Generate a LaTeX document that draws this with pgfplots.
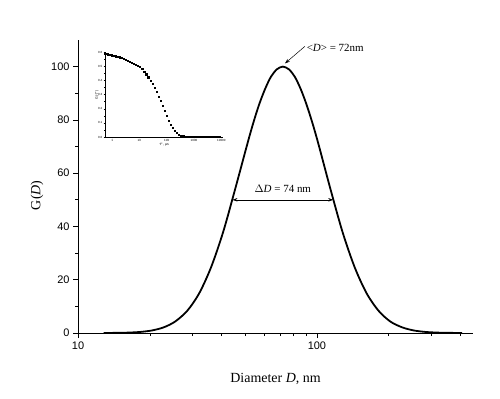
\documentclass[border=0pt]{standalone}
\usepackage{pgfplots}
\pgfplotsset{compat=1.18}
\usepackage{fontspec}
\setmainfont{Liberation Serif}
\setsansfont{Liberation Sans}
\usetikzlibrary{arrows.meta}
\begin{document}
\begin{tikzpicture}
\path[use as bounding box] (-78bp,-66bp) rectangle (422bp,333bp);
\begin{axis}[
  at={(0,0)}, anchor=south west,
  scale only axis, width=395bp, height=293bp,
  xmode=log, xmin=10, xmax=450, ymin=0, ymax=110,
  axis x line*=bottom, axis y line*=left,
  axis line style={line width=0.9pt},
  xtick={10,100}, xticklabels={\sffamily 10,\sffamily 100},
  minor xtick={20,30,40,50,60,70,80,90,200,300,400},
  ytick={0,20,40,60,80,100},
  yticklabels={\sffamily 0,\sffamily 20,\sffamily 40,\sffamily 60,\sffamily 80,\sffamily 100},
  minor ytick={10,30,50,70,90},
  tick align=outside, tick pos=left,
  major tick length=5bp, minor tick length=3bp,
  tick style={line width=0.8pt, black},
  every tick label/.append style={font=\sffamily\fontsize{11}{11}\selectfont},
  xlabel={Diameter \textit{D}, nm},
  ylabel={G(\textit{D})},
  every axis label/.append style={font=\rmfamily\fontsize{14}{14}\selectfont},
  xlabel style={yshift=-17bp},
  ylabel style={at={(ticklabel cs:0.47)}, yshift=1bp},
]
\addplot[black, line width=1.8pt, smooth] coordinates {
(12.8,0.02)(14.4,0.05)(16.1,0.14)(18.1,0.38)(20.3,0.92)(22.8,2.1)(25.5,4.3)
(28.7,8.4)(32.2,15.0)(36.1,24.8)(40.5,37.9)(45.4,53.8)(51.0,70.6)(54.0,78.5)(57.2,85.6)
(60.6,91.5)(64.2,96.2)(68.0,99.0)(72,100)(76.3,99.0)(80.8,96.2)(85.6,91.5)(90.6,85.6)(96.0,78.5)(101.7,70.6)
(114.1,53.8)(128.0,37.9)(143.7,24.8)(161.2,15.0)(180.9,8.4)(202.9,4.3)
(227.7,2.1)(255.5,0.92)(286.6,0.38)(321.6,0.14)(360.9,0.05)(404.9,0.02)
};
\draw[-{Stealth[length=5bp,width=3.5bp]}, line width=0.5pt] (axis cs:89,107.6) -- (axis cs:73.5,101.2);
\node[anchor=west, font=\fontsize{11}{11}\selectfont, inner sep=0pt] at (axis cs:90.5,107.2) {<\textit{D}> = 72nm};
\draw[{Stealth[length=5bp,width=3.5bp]}-{Stealth[length=5bp,width=3.5bp]}, line width=0.5pt] (axis cs:44.3,50) -- (axis cs:117,50);
\node[font=\fontsize{11}{11}\selectfont, inner sep=0pt] at (axis cs:72,54.3) {$\Delta$\textit{D} = 74 nm};
\end{axis}
\begin{axis}[
  at={(27bp,196bp)}, anchor=south west,
  scale only axis, width=118bp, height=85bp,
  xmode=log, xmin=0.55, xmax=11500, ymin=0, ymax=0.6,
  axis x line*=bottom, axis y line*=left,
  axis line style={line width=0.5pt},
  xtick={1,10,100,1000,10000}, xticklabels={1,10,100,1000,10000},
  ytick={0,0.1,0.2,0.3,0.4,0.5,0.6},
  yticklabels={0.0,0.1,0.2,0.3,0.4,0.5,0.6},
  minor y tick num=1,
  tick align=outside, tick pos=left,
  major tick length=1.5bp, minor tick length=1bp,
  tick style={line width=0.3pt, black},
  every tick label/.append style={font=\sffamily\fontsize{3}{3}\selectfont, inner sep=1pt},
  xlabel={$\tau$, \textmu s}, ylabel={G($\tau$)},
  every axis label/.append style={font=\sffamily\fontsize{3.5}{3.5}\selectfont},
  xlabel style={yshift=3bp}, ylabel style={yshift=-5bp},
]
\addplot[only marks, mark=square*, mark size=0.6pt, black] coordinates {
(0.562,0.588)(0.668,0.585)(0.794,0.581)(0.944,0.578)(1.122,0.575)(1.334,0.571)
(1.585,0.567)(1.884,0.563)(2.239,0.558)(2.661,0.552)(3.162,0.546)(3.758,0.539)
(4.467,0.530)(5.309,0.524)(6.310,0.517)(7.499,0.510)(8.913,0.502)(10.59,0.494)
(12.59,0.480)(14.96,0.463)(17.78,0.443)(21.13,0.422)(25.12,0.400)(29.85,0.374)
(35.48,0.346)(42.17,0.317)(50.12,0.287)(59.57,0.254)(70.79,0.220)(84.14,0.185)
(100,0.150)(118.9,0.117)(141.3,0.089)(167.9,0.065)(199.5,0.045)(237.1,0.029)
(281.8,0.018)(335.0,0.010)(398.1,0.006)(473.2,0.004)(562.3,0.002)(668.3,0.001)
(794.3,0.001)(944.1,0.000)(1122,0.000)(1334,0.000)(1585,0.000)(1884,0.000)
(2239,0.000)(2661,0.000)(3162,0.000)(3758,0.000)(4467,0.000)(5309,0.000)
(6310,0.000)(7499,0.000)(8913,0.000)
};
\end{axis}
\end{tikzpicture}
\end{document}
